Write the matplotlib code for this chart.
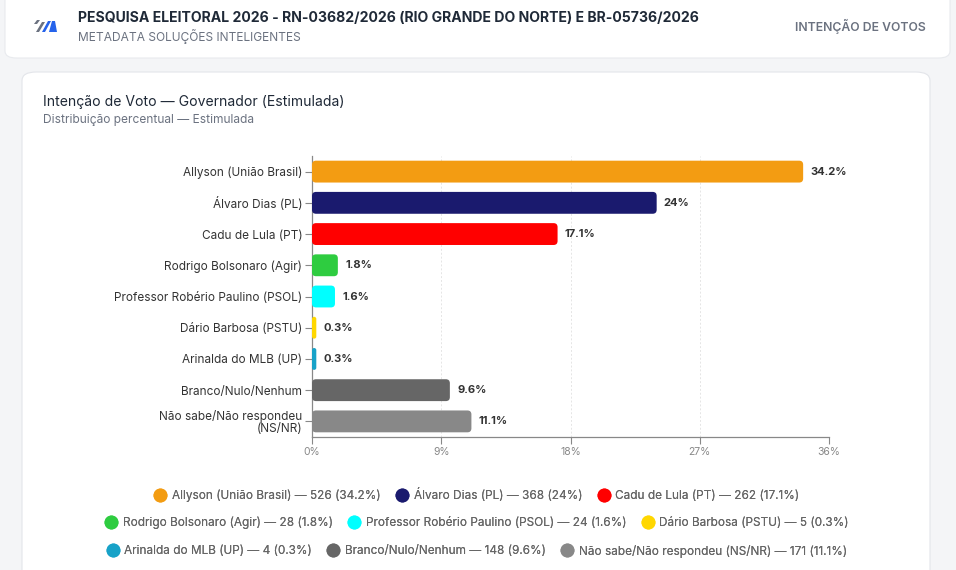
import matplotlib
matplotlib.use("Agg")
import matplotlib.pyplot as plt
from matplotlib.patches import FancyBboxPatch, Polygon
from matplotlib.lines import Line2D

plt.rcParams['font.family'] = ['Inter', 'DejaVu Sans']

categories = ["Allyson (União Brasil)", "Álvaro Dias (PL)", "Cadu de Lula (PT)",
              "Rodrigo Bolsonaro (Agir)", "Professor Robério Paulino (PSOL)",
              "Dário Barbosa (PSTU)", "Arinalda do MLB (UP)", "Branco/Nulo/Nenhum",
              "Não sabe/Não respondeu (NS/NR)"]
tick_labels = ["Allyson (União Brasil)", "Álvaro Dias (PL)", "Cadu de Lula (PT)",
               "Rodrigo Bolsonaro (Agir)", "Professor Robério Paulino (PSOL)",
               "Dário Barbosa (PSTU)", "Arinalda do MLB (UP)", "Branco/Nulo/Nenhum",
               "Não sabe/Não respondeu\n(NS/NR)"]
percent = [34.2, 24, 17.1, 1.8, 1.6, 0.3, 0.3, 9.6, 11.1]
counts = [526, 368, 262, 28, 24, 5, 4, 148, 171]
colors = ["#F39C12", "#1A1A6E", "#FF0000", "#2ECC40", "#00FFFF", "#FFD700",
          "#17A2C8", "#666666", "#888888"]
x_ticks = [0, 9, 18, 27, 36]

W, H = 956, 570
fig = plt.figure(figsize=(W / 100, H / 100), dpi=100)
fig.patch.set_facecolor("#F4F5F7")

def px_box(x0, y0, x1, y1, **kw):
    p = FancyBboxPatch((x0 / W, 1 - y1 / H), (x1 - x0) / W, (y1 - y0) / H,
                       transform=fig.transFigure, **kw)
    fig.patches.append(p)

# header card
px_box(5, -20, 950, 58, boxstyle="round,pad=0,rounding_size=0.012",
       facecolor="white", edgecolor="#E8EAEE", linewidth=0.8, zorder=-10)
# chart card
px_box(22, 72, 930, 600, boxstyle="round,pad=0,rounding_size=0.015",
       facecolor="white", edgecolor="#E3E5EA", linewidth=0.8, zorder=-10)

# logo
def poly(pts, color):
    fig.patches.append(Polygon([(x / W, 1 - y / H) for x, y in pts], closed=True,
                               transform=fig.transFigure, facecolor=color,
                               edgecolor="none", zorder=-5))
poly([(34, 24), (37, 20), (40, 20), (37, 24)], "#6B7280")
poly([(36, 32), (42, 22), (45, 22), (39, 32)], "#6B7280")
poly([(42, 32), (48, 21), (51, 21), (45, 32)], "#2563EB")
poly([(49, 32), (52, 21), (55, 21), (57, 32), (54, 32)], "#2563EB")

fig.text(78 / W, 1 - 18 / H, "PESQUISA ELEITORAL 2026 - RN-03682/2026 (RIO GRANDE DO NORTE) E BR-05736/2026",
         fontsize=10.1, fontweight="bold", color="#1F2937", va="center", ha="left")
fig.text(78 / W, 1 - 36 / H, "METADATA SOLUÇÕES INTELIGENTES",
         fontsize=8.6, color="#6B7280", va="center", ha="left")
fig.text(926 / W, 1 - 26 / H, "INTENÇÃO DE VOTOS",
         fontsize=8.8, fontweight="semibold", color="#6B7280", va="center", ha="right")
fig.text(43 / W, 1 - 102 / H, "Intenção de Voto — Governador (Estimulada)",
         fontsize=10.1, color="#1F2937", va="center", ha="left")
fig.text(43 / W, 1 - 120 / H, "Distribuição percentual — Estimulada",
         fontsize=8.6, color="#6B7280", va="center", ha="left")

ax = fig.add_axes([312 / W, 1 - 437 / H, (829 - 312) / W, (437 - 156) / H])
ax.set_facecolor("none")
y = list(range(len(categories)))
bars = ax.barh(y, percent, height=0.7, color=colors)
ax.set_xlim(0, 36)
ax.set_ylim(len(categories) - 0.5, -0.5)

# rounded bars
px_per_x = (829 - 312) / 36
px_per_y = (437 - 156) / len(categories)
for b in bars:
    bx, by = b.get_x(), b.get_y()
    bw, bh = b.get_width(), b.get_height()
    r = min(4 / px_per_x, bw / 2)
    fb = FancyBboxPatch((bx, by), bw, bh,
                        boxstyle=f"round,pad=0,rounding_size={r}",
                        mutation_aspect=(px_per_x / px_per_y),
                        facecolor=b.get_facecolor(), edgecolor="none", zorder=3)
    ax.add_patch(fb)
    b.set_visible(False)

for yi, v in zip(y, percent):
    ax.text(v + 0.5, yi, f"{v:g}%", va="center", ha="left", fontsize=8,
            fontweight="bold", color="#333333")

ax.set_yticks(y)
ax.set_yticklabels(tick_labels, fontsize=8.5, color="#333333", linespacing=0.95)
ax.set_xticks(x_ticks)
ax.set_xticklabels([f"{t}%" for t in x_ticks], fontsize=7.5, color="#888888")
ax.tick_params(axis="y", length=5, color="#888888", width=0.8, pad=2)
ax.tick_params(axis="x", length=5, color="#888888", width=0.8, pad=2)
for s in ["top", "right"]:
    ax.spines[s].set_visible(False)
for s in ["left", "bottom"]:
    ax.spines[s].set_color("#888888")
    ax.spines[s].set_linewidth(0.9)
ax.grid(axis="x", color="#E5E5E5", linestyle=(0, (2, 2)), linewidth=0.7, zorder=0)
ax.set_axisbelow(True)

# legend rows
handles = [Line2D([], [], marker="o", linestyle="none", markersize=9,
                  markerfacecolor=c, markeredgecolor=c) for c in colors]
labels = [f"{c} — {n} ({p:g}%)" for c, n, p in zip(categories, counts, percent)]
rows = [(0, 3, 495), (3, 6, 523), (6, 9, 551)]
for a, b_, ypx in rows:
    leg = fig.legend(handles[a:b_], labels[a:b_], loc="center",
                     bbox_to_anchor=(477 / W, 1 - ypx / H), ncol=3, frameon=False,
                     fontsize=8.5, labelcolor="#666666", handletextpad=0.5,
                     columnspacing=1.3, handlelength=1.0, borderaxespad=0)
    fig.add_artist(leg)

fig.savefig("out.png", dpi=100)
